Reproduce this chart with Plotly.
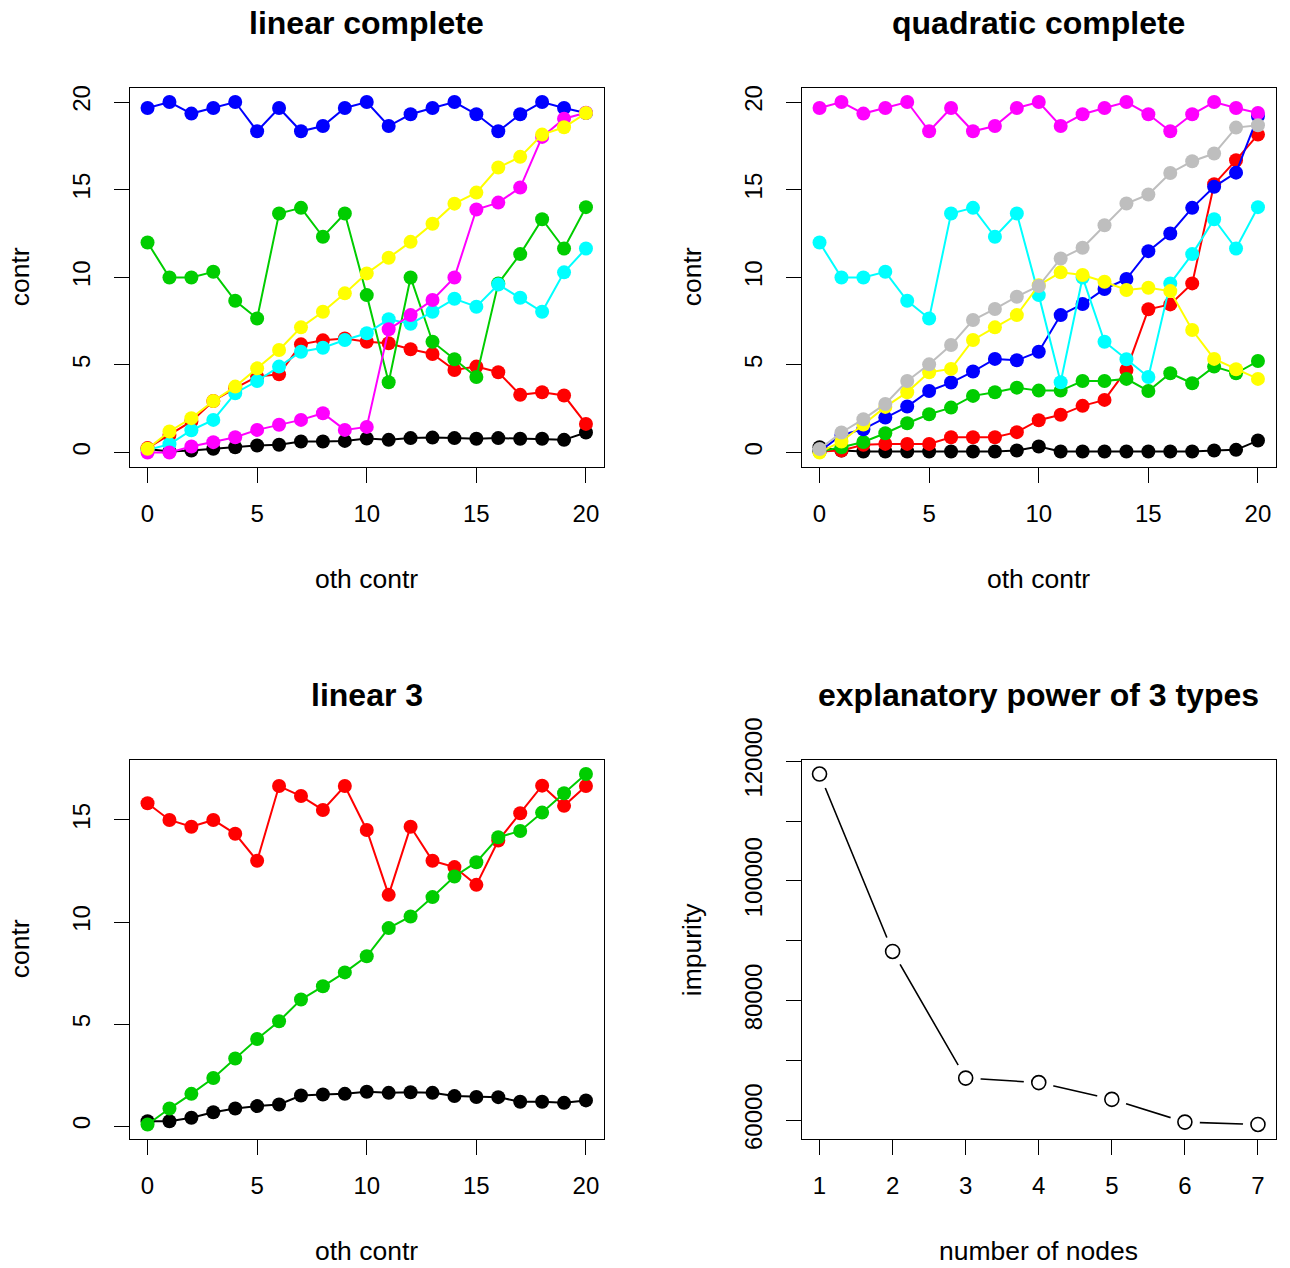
import plotly.graph_objects as go

# ---------------- data ----------------
oth_contr = list(range(21))

# linear complete
lc_black = [0.2, 0.06, 0.11, 0.21, 0.3, 0.4, 0.44, 0.63, 0.63, 0.66, 0.8, 0.72, 0.82, 0.85, 0.82, 0.78, 0.82, 0.78, 0.78, 0.72, 1.14]
lc_red = [0.25, 1.0, 1.77, 2.94, 3.67, 4.33, 4.46, 6.17, 6.4, 6.51, 6.32, 6.23, 5.89, 5.62, 4.71, 4.9, 4.58, 3.29, 3.44, 3.25, 1.63]
lc_green = [11.98, 9.99, 9.99, 10.31, 8.66, 7.65, 13.64, 13.96, 12.31, 13.64, 8.98, 4.01, 9.99, 6.32, 5.32, 4.31, 9.65, 11.32, 13.31, 11.64, 14.0]
lc_blue = [19.66, 20.0, 19.34, 19.66, 20.0, 18.33, 19.66, 18.33, 18.63, 19.66, 20.0, 18.63, 19.3, 19.66, 20.0, 19.3, 18.33, 19.3, 20.0, 19.66, 19.37]
lc_cyan = [0.15, 0.47, 1.27, 1.86, 3.38, 4.08, 4.9, 5.75, 5.98, 6.42, 6.8, 7.6, 7.35, 8.03, 8.77, 8.32, 9.59, 8.83, 8.03, 10.28, 11.64]
lc_magenta = [0.0, 0.0, 0.34, 0.59, 0.87, 1.29, 1.58, 1.86, 2.24, 1.29, 1.46, 7.03, 7.84, 8.7, 9.99, 13.87, 14.26, 15.12, 18.01, 19.05, 19.39]
lc_yellow = [0.21, 1.2, 1.96, 2.94, 3.76, 4.8, 5.85, 7.14, 8.03, 9.08, 10.22, 11.11, 12.02, 13.05, 14.2, 14.83, 16.26, 16.87, 18.14, 18.56, 19.37]

# quadratic complete
qc_black = [0.3, 0.11, 0.06, 0.06, 0.06, 0.06, 0.06, 0.06, 0.06, 0.11, 0.34, 0.06, 0.06, 0.06, 0.06, 0.06, 0.06, 0.06, 0.11, 0.15, 0.68]
qc_red = [0.06, 0.11, 0.44, 0.49, 0.49, 0.49, 0.87, 0.87, 0.87, 1.16, 1.84, 2.15, 2.66, 3.0, 4.71, 8.17, 8.45, 9.65, 15.31, 16.68, 18.14]
qc_green = [0.06, 0.3, 0.6, 1.1, 1.67, 2.18, 2.56, 3.23, 3.44, 3.7, 3.53, 3.53, 4.08, 4.08, 4.2, 3.51, 4.52, 3.95, 4.9, 4.52, 5.22]
qc_blue = [0.06, 1.0, 1.33, 1.99, 2.62, 3.51, 3.99, 4.62, 5.34, 5.26, 5.75, 7.84, 8.47, 9.33, 9.9, 11.49, 12.5, 13.96, 15.16, 15.97, 19.2]
qc_cyan = [11.98, 9.99, 9.99, 10.31, 8.66, 7.65, 13.64, 13.96, 12.31, 13.64, 8.98, 4.01, 9.99, 6.32, 5.32, 4.31, 9.65, 11.32, 13.31, 11.64, 14.0]
qc_magenta = [19.66, 20.0, 19.34, 19.66, 20.0, 18.33, 19.66, 18.33, 18.63, 19.66, 20.0, 18.63, 19.3, 19.66, 20.0, 19.3, 18.33, 19.3, 20.0, 19.66, 19.37]
qc_yellow = [0.0, 0.63, 1.6, 2.6, 3.44, 4.58, 4.77, 6.42, 7.14, 7.84, 9.55, 10.28, 10.13, 9.74, 9.27, 9.4, 9.21, 6.99, 5.34, 4.75, 4.2]
qc_gray = [0.2, 1.14, 1.9, 2.77, 4.08, 5.03, 6.13, 7.56, 8.19, 8.89, 9.5, 11.07, 11.68, 12.97, 14.21, 14.72, 15.95, 16.62, 17.06, 18.54, 18.67]

# linear 3
l3_black = [0.24, 0.24, 0.41, 0.68, 0.86, 0.98, 1.06, 1.5, 1.55, 1.58, 1.68, 1.63, 1.66, 1.63, 1.47, 1.43, 1.42, 1.19, 1.19, 1.14, 1.26]
l3_red = [15.82, 15.0, 14.67, 15.0, 14.32, 13.0, 16.66, 16.17, 15.49, 16.66, 14.51, 11.33, 14.67, 13.0, 12.69, 11.82, 13.99, 15.33, 16.68, 15.69, 16.66]
l3_green = [0.08, 0.86, 1.58, 2.36, 3.31, 4.27, 5.14, 6.2, 6.85, 7.53, 8.32, 9.7, 10.27, 11.22, 12.23, 12.93, 14.15, 14.46, 15.36, 16.31, 17.25]

# explanatory power
nodes = [1, 2, 3, 4, 5, 6, 7]
impurity = [117850, 88200, 67050, 66300, 63500, 59700, 59300]

contr_ticks = [0, 5, 10, 15, 20]
contr_ticks3 = [0, 5, 10, 15]
imp_tickvals = [60000, 70000, 80000, 90000, 100000, 110000, 120000]
imp_ticktext = ["60000", "", "80000", "", "100000", "", "120000"]

titles = ["linear complete", "quadratic complete", "linear 3", "explanatory power of 3 types"]
xlabels = ["oth contr", "oth contr", "oth contr", "number of nodes"]
ylabels = ["contr", "contr", "contr", "impurity"]

# ---------------- style ----------------
COL = {"black": "#000000", "red": "#FF0000", "green": "#00CD00", "blue": "#0000FF",
       "cyan": "#00FFFF", "magenta": "#FF00FF", "yellow": "#FFFF00", "gray": "#BEBEBE"}
FONT = "Liberation Sans, Arial, sans-serif"
W, H = 1290, 1268


def px(sx):
    return sx / W


def py(sy):
    return 1 - sy / H


def rrange(vals):
    lo, hi = min(vals), max(vals)
    d = (hi - lo) * 0.04
    return [lo - d, hi + d]


fig = go.Figure()


def add_series(xv, yv, color, ax):
    fig.add_trace(go.Scatter(
        x=xv, y=yv, mode="lines+markers", xaxis="x" + ax, yaxis="y" + ax,
        line=dict(color=color, width=2),
        marker=dict(color=color, size=14, symbol="circle", line=dict(width=0)),
        showlegend=False, hoverinfo="skip"))


for name, ser in [("black", lc_black), ("red", lc_red), ("green", lc_green), ("blue", lc_blue),
                  ("cyan", lc_cyan), ("magenta", lc_magenta), ("yellow", lc_yellow)]:
    add_series(oth_contr, ser, COL[name], "")

for name, ser in [("black", qc_black), ("red", qc_red), ("green", qc_green), ("blue", qc_blue),
                  ("cyan", qc_cyan), ("magenta", qc_magenta), ("yellow", qc_yellow), ("gray", qc_gray)]:
    add_series(oth_contr, ser, COL[name], "2")

for name, ser in [("black", l3_black), ("red", l3_red), ("green", l3_green)]:
    add_series(oth_contr, ser, COL[name], "3")

# type="b" style: line, white halo, open circles
fig.add_trace(go.Scatter(x=nodes, y=impurity, mode="lines", xaxis="x4", yaxis="y4",
                         line=dict(color="black", width=1.6), showlegend=False, hoverinfo="skip"))
fig.add_trace(go.Scatter(x=nodes, y=impurity, mode="markers", xaxis="x4", yaxis="y4",
                         marker=dict(color="white", size=30, line=dict(width=0)),
                         showlegend=False, hoverinfo="skip"))
fig.add_trace(go.Scatter(x=nodes, y=impurity, mode="markers", xaxis="x4", yaxis="y4",
                         marker=dict(color="white", size=14, symbol="circle",
                                     line=dict(color="black", width=1.6)),
                         showlegend=False, hoverinfo="skip"))

# panel boxes in screen pixels (left, right, top, bottom)
boxes = [(130, 603.5, 88, 466.5), (802, 1275.5, 88, 466.5),
         (130, 603.5, 760, 1138.5), (802, 1275.5, 760, 1138.5)]
xranges = [rrange(oth_contr), rrange(oth_contr), rrange(oth_contr), rrange(nodes)]
yranges = [rrange(lc_black + lc_red + lc_green + lc_blue + lc_cyan + lc_magenta + lc_yellow),
           rrange(qc_black + qc_red + qc_green + qc_blue + qc_cyan + qc_magenta + qc_yellow + qc_gray),
           rrange(l3_black + l3_red + l3_green),
           rrange(impurity)]
xticks = [(contr_ticks, [str(v) for v in contr_ticks])] * 3 + [(nodes, [str(v) for v in nodes])]
yticks = [(contr_ticks, [str(v) for v in contr_ticks]), (contr_ticks, [str(v) for v in contr_ticks]),
          (contr_ticks3, [str(v) for v in contr_ticks3]), (imp_tickvals, imp_ticktext)]

axcommon = dict(showgrid=False, zeroline=False, showline=True, mirror=True, linecolor="black",
                linewidth=1.3, ticks="outside", ticklen=15, tickwidth=1.3, tickcolor="black",
                tickfont=dict(family=FONT, size=24, color="black"), fixedrange=True,
                automargin=False)

layout = {}
annotations = []
for i, (l, r, t, b) in enumerate(boxes):
    suf = "" if i == 0 else str(i + 1)
    layout["xaxis" + suf] = dict(axcommon, domain=[px(l), px(r)], range=xranges[i],
                                 anchor="y" + suf, tickmode="array",
                                 tickvals=xticks[i][0], ticktext=xticks[i][1],
                                 ticklabelstandoff=11)
    layout["yaxis" + suf] = dict(axcommon, domain=[py(b), py(t)], range=yranges[i],
                                 anchor="x" + suf, tickmode="array",
                                 tickvals=yticks[i][0], ticktext=yticks[i][1],
                                 tickangle=-90, ticklabelstandoff=14)
    cx = (l + r) / 2
    annotations.append(dict(text="<b>" + titles[i] + "</b>", x=px(cx), y=py(t - 65),
                            xref="paper", yref="paper", showarrow=False, xanchor="center",
                            yanchor="middle", font=dict(family=FONT, size=32, color="black")))
    annotations.append(dict(text=xlabels[i], x=px(cx), y=py(b + 112.5),
                            xref="paper", yref="paper", showarrow=False, xanchor="center",
                            yanchor="middle", font=dict(family=FONT, size=26.5, color="black")))
    annotations.append(dict(text=ylabels[i], x=px(l - 110), y=py((t + b) / 2),
                            xref="paper", yref="paper", showarrow=False, xanchor="center",
                            yanchor="middle", textangle=-90,
                            font=dict(family=FONT, size=26.5, color="black")))

fig.update_layout(**layout)
fig.update_layout(width=W, height=H, margin=dict(l=0, r=0, t=0, b=0, pad=0),
                  paper_bgcolor="white", plot_bgcolor="white",
                  annotations=annotations, showlegend=False)

fig.write_html("out.html", config={"displayModeBar": False},
               post_script="document.body.style.margin='0';")
